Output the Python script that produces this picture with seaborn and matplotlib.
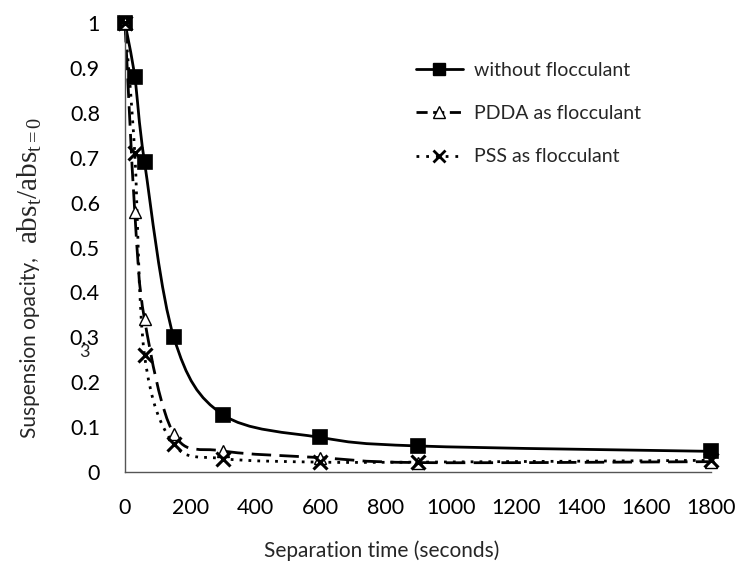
import numpy as np
import pandas as pd
import seaborn as sns
import matplotlib
matplotlib.use("Agg")
import matplotlib.pyplot as plt
from matplotlib.path import Path
from matplotlib.patches import PathPatch
from matplotlib.lines import Line2D

# ---- data ----
time_s = [0, 30, 60, 150, 300, 600, 900, 1800]
without_floc = [1.0, 0.88, 0.69, 0.30, 0.128, 0.077, 0.058, 0.046]
pdda_floc = [1.0, 0.58, 0.34, 0.085, 0.047, 0.032, 0.021, 0.023]
pss_floc = [1.0, 0.71, 0.26, 0.062, 0.030, 0.022, 0.022, 0.026]
series_names = ["without flocculant", "PDDA as flocculant", "PSS as flocculant"]
x_ticks = [0, 200, 400, 600, 800, 1000, 1200, 1400, 1600, 1800]
y_ticks = [0, 0.1, 0.2, 0.3, 0.4, 0.5, 0.6, 0.7, 0.8, 0.9, 1]

df = pd.DataFrame({
    "time": time_s * 3,
    "value": without_floc + pdda_floc + pss_floc,
    "series": [series_names[0]] * 8 + [series_names[1]] * 8 + [series_names[2]] * 8,
})

sns.set_theme(style="white")
plt.rcParams["font.family"] = ["Lato", "DejaVu Sans"]
plt.rcParams["mathtext.fontset"] = "custom"
plt.rcParams["mathtext.rm"] = "Liberation Serif"
plt.rcParams["mathtext.it"] = "Liberation Serif:italic"

fig = plt.figure(figsize=(7.39, 5.68), dpi=100)
ax = fig.add_axes([125 / 739, 1 - 472 / 568, 586 / 739, 449 / 568])
XMAX, YMAX = 1800, 1.0
ax.set_xlim(0, XMAX)
ax.set_ylim(0, YMAX)

styles = {
    series_names[0]: dict(dashes=None, marker="s", ms=10, mfc="black", mew=1.2),
    series_names[1]: dict(dashes=(7, 3), marker="^", ms=8.5, mfc="white", mew=1.0),
    series_names[2]: dict(dashes=(1, 2.2), marker="x", ms=10, mfc="black", mew=2.2),
}

W, H = 586.0, 449.0  # approximate pixel size of plotting area


def smooth_path(xs, ys):
    # Bezier (Catmull-Rom style) smoothing of the polyline, computed in screen-like units
    P = np.column_stack([np.asarray(xs) / XMAX * W, np.asarray(ys) / YMAX * H])
    n = len(P)
    verts = [P[0]]
    codes = [Path.MOVETO]
    for i in range(n - 1):
        p0 = P[i - 1] if i > 0 else P[i]
        p1 = P[i]
        p2 = P[i + 1]
        p3 = P[i + 2] if i + 2 < n else P[i + 1]
        c1 = p1 + (p2 - p0) / 6.0
        c2 = p2 - (p3 - p1) / 6.0
        verts += [c1, c2, p2]
        codes += [Path.CURVE4] * 3
    verts = np.array(verts)
    verts[:, 0] /= W
    verts[:, 1] /= H
    return Path(verts, codes)


for name in series_names:
    sub = df[df["series"] == name]
    st = styles[name]
    patch = PathPatch(smooth_path(sub["time"].values, sub["value"].values),
                      transform=ax.transAxes, facecolor="none", edgecolor="black",
                      lw=2.0, zorder=2, clip_on=False)
    if st["dashes"] is not None:
        patch.set_linestyle((0, st["dashes"]))
    ax.add_patch(patch)
    sns.lineplot(data=sub, x="time", y="value", ax=ax, linestyle="none",
                 marker=st["marker"], markersize=st["ms"], markerfacecolor=st["mfc"],
                 markeredgecolor="black", markeredgewidth=st["mew"], color="black",
                 clip_on=False, zorder=3, legend=False, errorbar=None)

ax.set_xticks(x_ticks)
ax.set_yticks(y_ticks)
ax.set_yticklabels([f"{v:g}" for v in y_ticks])
ax.set_xticklabels([str(v) for v in x_ticks])
ax.tick_params(axis="both", which="major", direction="out", length=6, width=1,
               color="#555555", labelsize=15.5, labelcolor="black")
ax.tick_params(axis="y", pad=12)
ax.tick_params(axis="x", pad=13)
for s in ["top", "right"]:
    ax.spines[s].set_visible(False)
for s in ["left", "bottom"]:
    ax.spines[s].set_color("#555555")
    ax.spines[s].set_linewidth(1.0)

ax.set_xlabel("")
ax.set_ylabel("")
fig.text(382 / 739, 1 - 551 / 568, "Separation time (seconds)", fontsize=15,
         ha="center", va="center")
# y-axis title: sans part plus serif quantity
fig.text(30 / 739, 1 - 348 / 568, "Suspension opacity,", fontsize=15,
         rotation=90, ha="center", va="center")
fig.text(30 / 739, 1 - 180 / 568, r"$\mathrm{abs_t/abs_{t=0}}$", fontsize=21,
         rotation=90, ha="center", va="center")

# stray glyph in the reference next to the 0.3 label
fig.text(84 / 739, 1 - 352 / 568, "3", fontsize=13, ha="center", va="center")

handles = [
    Line2D([0], [0], color="black", lw=2, ls="-", marker="s", ms=9, mfc="black", mec="black"),
    Line2D([0], [0], color="black", lw=2, dashes=(4, 2), marker="^", ms=9, mfc="white", mec="black"),
    Line2D([0], [0], color="black", lw=2, dashes=(1, 2.5), marker="x", ms=9, mew=2, mec="black"),
]
leg = fig.legend(handles, series_names, loc="upper left",
                 bbox_to_anchor=(416 / 739, 1 - 62 / 568), borderaxespad=0, borderpad=0,
                 frameon=False, fontsize=14, handlelength=2.4, labelspacing=1.35,
                 handletextpad=0.6)

fig.savefig("out.png", dpi=100)
